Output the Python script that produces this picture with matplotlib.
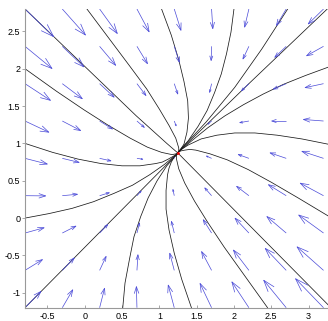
import numpy as np
import matplotlib
matplotlib.use('Agg')
import matplotlib.pyplot as plt
from matplotlib.collections import LineCollection

plt.rcParams['font.family'] = ['Liberation Sans', 'DejaVu Sans']

# grid of arrow tails
x_grid = [-0.8, -0.3, 0.2, 0.7, 1.2, 1.7, 2.2, 2.7, 3.2]
y_grid = [-1.2, -0.7, -0.2, 0.3, 0.8, 1.3, 1.8, 2.3, 2.8]

# arrow components (rows follow y_grid, columns follow x_grid)
U = [[1.45, 0.95, 0.45, -0.05, -0.55, -1.05, -1.55, -2.05, -2.55],
     [1.59, 1.09, 0.59, 0.09, -0.41, -0.91, -1.41, -1.91, -2.41],
     [1.74, 1.24, 0.74, 0.24, -0.26, -0.76, -1.26, -1.76, -2.26],
     [1.88, 1.38, 0.88, 0.38, -0.12, -0.62, -1.12, -1.62, -2.12],
     [2.03, 1.53, 1.03, 0.53, 0.03, -0.47, -0.97, -1.47, -1.97],
     [2.17, 1.67, 1.17, 0.67, 0.17, -0.33, -0.83, -1.33, -1.83],
     [2.32, 1.82, 1.32, 0.82, 0.32, -0.18, -0.68, -1.18, -1.68],
     [2.46, 1.96, 1.46, 0.96, 0.46, -0.04, -0.54, -1.04, -1.54],
     [2.61, 2.11, 1.61, 1.11, 0.61, 0.11, -0.39, -0.89, -1.39]]
V = [[1.48, 1.63, 1.77, 1.92, 2.06, 2.21, 2.35, 2.50, 2.64],
     [0.98, 1.13, 1.27, 1.42, 1.56, 1.71, 1.85, 2.00, 2.14],
     [0.48, 0.63, 0.77, 0.92, 1.06, 1.21, 1.35, 1.50, 1.64],
     [-0.02, 0.13, 0.27, 0.42, 0.56, 0.71, 0.85, 1.00, 1.14],
     [-0.52, -0.37, -0.23, -0.08, 0.06, 0.21, 0.35, 0.50, 0.64],
     [-1.02, -0.87, -0.73, -0.58, -0.44, -0.29, -0.15, 0.00, 0.14],
     [-1.52, -1.37, -1.23, -1.08, -0.94, -0.79, -0.65, -0.50, -0.36],
     [-2.02, -1.87, -1.73, -1.58, -1.44, -1.29, -1.15, -1.00, -0.86],
     [-2.52, -2.37, -2.23, -2.08, -1.94, -1.79, -1.65, -1.50, -1.36]]

equilibrium = (1.25, 0.875)

# solution curves (x, y) points
T0 = [(-0.80, 2.80), (0.69, 1.37), (1.10, 1.00), (1.25, 0.87)]
T1 = [(0.03, 2.80), (0.60, 2.04), (0.83, 1.73), (1.00, 1.46), (1.13, 1.24), (1.22, 1.07),
      (1.26, 0.94), (1.26, 0.90), (1.25, 0.88)]
T2 = [(1.03, 2.80), (1.16, 2.45), (1.26, 2.12), (1.33, 1.83), (1.38, 1.57), (1.39, 1.34),
      (1.37, 1.15), (1.33, 0.99), (1.29, 0.93), (1.25, 0.88)]
T3 = [(2.00, 2.80), (1.96, 2.49), (1.90, 2.20), (1.83, 1.93), (1.74, 1.68), (1.64, 1.44),
      (1.52, 1.23), (1.39, 1.04), (1.25, 0.88)]
T4 = [(2.72, 2.80), (2.37, 2.26), (2.01, 1.75), (1.63, 1.29), (1.25, 0.88)]
T5 = [(3.25, 2.80), (2.21, 1.81), (1.25, 0.88)]
T6 = [(3.26, 2.02), (2.96, 1.91), (2.66, 1.79), (2.39, 1.66), (2.13, 1.52), (1.88, 1.37),
      (1.65, 1.21), (1.44, 1.04), (1.25, 0.88)]
T7 = [(3.26, 0.99), (2.91, 1.06), (2.58, 1.11), (2.28, 1.14), (2.01, 1.14), (1.77, 1.11),
      (1.56, 1.06), (1.39, 0.98), (1.31, 0.93), (1.25, 0.88)]
T8 = [(3.26, 0.03), (2.86, 0.27), (2.50, 0.48), (2.19, 0.65), (1.91, 0.78), (1.68, 0.86),
      (1.49, 0.91), (1.41, 0.92), (1.34, 0.91), (1.29, 0.90), (1.25, 0.88)]
T9 = [(3.26, -1.16), (1.25, 0.87)]
T10 = [(2.45, -1.2), (1.87, -0.39), (1.65, -0.06), (1.47, 0.23), (1.34, 0.47), (1.26, 0.66),
       (1.23, 0.79), (1.23, 0.84), (1.25, 0.87)]
T11 = [(1.43, -1.2), (1.3, -0.82), (1.2, -0.47), (1.13, -0.16), (1.09, 0.12), (1.09, 0.37),
       (1.11, 0.58), (1.13, 0.67), (1.16, 0.75), (1.2, 0.82), (1.25, 0.87)]
T12 = [(0.51, -1.2), (0.54, -0.87), (0.6, -0.55), (0.66, -0.25), (0.75, 0.02), (0.85, 0.27),
       (0.97, 0.5), (1.1, 0.7), (1.25, 0.87)]
T13 = [(-0.8, -1.2), (1.25, 0.87)]
T14 = [(-0.8, 0.0), (-0.48, 0.06), (-0.17, 0.13), (0.12, 0.22), (0.39, 0.33), (0.64, 0.44),
       (0.87, 0.58), (1.07, 0.72), (1.25, 0.87)]
T15 = [(-0.8, 1.0), (-0.43, 0.88), (-0.09, 0.79), (0.22, 0.73), (0.5, 0.7), (0.74, 0.7),
       (0.95, 0.73), (1.04, 0.75), (1.12, 0.79), (1.19, 0.83), (1.25, 0.87)]
T16 = [(-0.8, 2.0), (-0.38, 1.7), (-0.01, 1.45), (0.32, 1.24), (0.61, 1.07), (0.84, 0.95),
       (1.03, 0.88), (1.17, 0.85), (1.22, 0.86), (1.25, 0.87)]
curves = [T0, T1, T2, T3, T4, T5, T6, T7, T8, T9, T10, T11, T12, T13, T14, T15, T16]

x_ticks = [-0.5, 0, 0.5, 1, 1.5, 2, 2.5, 3]
x_labels = ['-0.5', '0', '0.5', '1', '1.5', '2', '2.5', '3']
y_ticks = [-1, -0.5, 0, 0.5, 1, 1.5, 2, 2.5]
y_labels = ['-1', '-0.5', '0', '0.5', '1', '1.5', '2', '2.5']

fig = plt.figure(figsize=(3.28, 3.21), dpi=100)
ax = fig.add_axes([25/328, 13.3/321, 303/328, 298.7/321])
ax.set_xlim(-0.8, 3.26)
ax.set_ylim(-1.2, 2.8)

for c in curves:
    arr = np.array(c)
    ax.plot(arr[:, 0], arr[:, 1], color='#1a1a1a', lw=0.55)

# arrows drawn MATLAB quiver style (open heads)
X, Y = np.meshgrid(x_grid, y_grid)
scale = 0.147
alpha, beta = 0.33, 0.33
segs = []
for x, y, u, v in zip(X.ravel(), Y.ravel(), np.ravel(U)*scale, np.ravel(V)*scale):
    tip = (x+u, y+v)
    segs.append([(x, y), tip])
    segs.append([(x+u-alpha*(u+beta*v), y+v-alpha*(v-beta*u)), tip,
                 (x+u-alpha*(u-beta*v), y+v-alpha*(v+beta*u))])
ax.add_collection(LineCollection(segs, colors='#4a4ad8', linewidths=0.5))
ax.plot([equilibrium[0]], [equilibrium[1]], 'r.', ms=2)

for sp in ['top', 'right']:
    ax.spines[sp].set_visible(False)
for sp in ['left', 'bottom']:
    ax.spines[sp].set_color('0.6')
    ax.spines[sp].set_linewidth(0.8)
ax.set_xticks(x_ticks)
ax.set_xticklabels(x_labels)
ax.set_yticks(y_ticks)
ax.set_yticklabels(y_labels)
ax.tick_params(axis='x', direction='in', length=2.5, width=0.6, color='0.6', labelsize=6.5, pad=3)
ax.tick_params(axis='y', direction='out', length=2, width=0.6, color='0.6', labelsize=6.5, pad=1.5)
fig.savefig('out.png', dpi=100)
